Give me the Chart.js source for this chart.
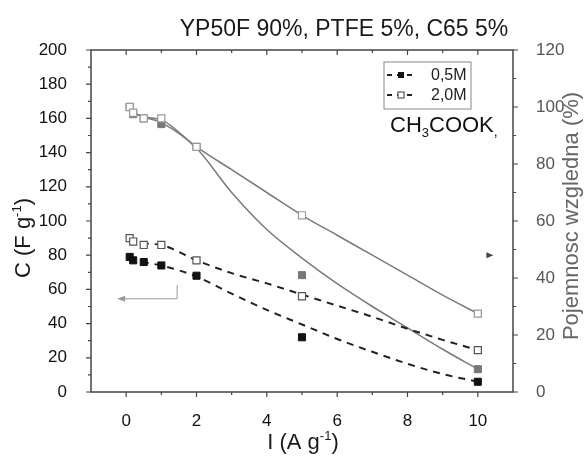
<!DOCTYPE html>
<html>
<head>
<meta charset="utf-8">
<script src="https://cdn.jsdelivr.net/npm/chart.js@4.4.1/dist/chart.umd.min.js"></script>
<style>
  html, body { margin: 0; padding: 0; background: #fff; }
</style>
</head>
<body>
<canvas id="chart" width="584" height="459"></canvas>
<script>
// current density I (A/g)
const current = [0.1, 0.2, 0.5, 1, 2, 5, 10];
// capacitance C (F/g), left axis
const cap05 = [79, 77, 76, 74, 68, 32, 6];
const cap20 = [90, 88, 86, 86, 77, 56, 24.5];
// relative capacitance (%), right axis
const rel05 = [100, 97.5, 96, 94, 86, 41, 8];
const rel20 = [100, 98, 96, 96, 86, 62, 27.5];

// fitted curves as they appear in the figure
const fitX = [0.1, 0.5, 1, 2, 3, 4, 5, 6, 7, 8, 9, 10];
const fitCap05 = [79, 76, 74, 67.5, 57.5, 48, 39.5, 31, 23.5, 16.5, 10.5, 6];
const fitCap20 = [90, 87, 86, 77, 69.5, 63.5, 57, 50.5, 44, 37, 30.5, 24.5];
const fitRelX = [0.2, 0.5, 1, 2, 3, 4, 5, 6, 7, 8, 9, 10];
const fitRel05 = [98, 96.5, 94.5, 85.5, 70, 57, 47, 38, 30, 22.5, 15, 8];
const fitRel20 = [98, 96.5, 95.5, 86, 78, 70, 62, 55, 48, 41, 34, 27.5];

// tick labels
const xTicks = [0, 2, 4, 6, 8, 10];
const capTicks = [0, 20, 40, 60, 80, 100, 120, 140, 160, 180, 200];
const relTicks = [0, 20, 40, 60, 80, 100, 120];
const seriesNames = ["0,5M", "2,0M"];

const FONT = "'Liberation Sans', Arial, sans-serif";

function pts(xs, ys) {
  return xs.map((x, i) => ({ x: x, y: ys[i] }));
}

// text with sub/superscripts, parts = [[text, size, dy]]
function drawParts(ctx, parts, x, y, align) {
  let w = 0;
  parts.forEach(p => { ctx.font = p[1] + "px " + FONT; w += ctx.measureText(p[0]).width; });
  let cx = align === "center" ? x - w / 2 : x;
  ctx.textAlign = "left";
  ctx.textBaseline = "alphabetic";
  parts.forEach(p => {
    ctx.font = p[1] + "px " + FONT;
    ctx.fillText(p[0], cx, y + p[2]);
    cx += ctx.measureText(p[0]).width;
  });
}

function square(ctx, x, y, s, fill, stroke) {
  ctx.fillStyle = fill;
  ctx.fillRect(x - s / 2, y - s / 2, s, s);
  if (stroke) {
    ctx.strokeStyle = stroke;
    ctx.lineWidth = 1.2;
    ctx.strokeRect(x - s / 2, y - s / 2, s, s);
  }
}

const decor = {
  id: "decor",
  afterDraw(chart) {
    const ctx = chart.ctx;
    const a = chart.chartArea;
    const sx = chart.scales.x, sy = chart.scales.y, sr = chart.scales.y2;
    ctx.save();

    // frame
    ctx.strokeStyle = "#444";
    ctx.lineWidth = 1.5;
    ctx.strokeRect(a.left, a.top, a.right - a.left, a.bottom - a.top);

    // ticks
    ctx.lineWidth = 1.2;
    ctx.beginPath();
    for (let v = 0; v <= 10; v++) {
      const px = sx.getPixelForValue(v);
      const len = v % 2 === 0 ? 5 : 3;
      ctx.moveTo(px, a.bottom); ctx.lineTo(px, a.bottom + len);
      ctx.moveTo(px, a.top); ctx.lineTo(px, a.top + len);
    }
    for (let v = 0; v <= 200; v += 10) {
      const py = sy.getPixelForValue(v);
      const len = v % 20 === 0 ? 5 : 3;
      ctx.moveTo(a.left, py); ctx.lineTo(a.left - len, py);
    }
    for (let v = 0; v <= 120; v += 10) {
      const py = sr.getPixelForValue(v);
      const len = v % 20 === 0 ? 5 : 3;
      ctx.moveTo(a.right, py); ctx.lineTo(a.right + len, py);
    }
    ctx.stroke();

    // title
    ctx.fillStyle = "#1a1a1a";
    drawParts(ctx, [["YP50F 90%, PTFE 5%, C65 5%", 23, 0]], 344, 36, "center");

    // x title
    drawParts(ctx, [["I (A g", 22, 0], ["-1", 13, -9], [")", 22, 0]], 303, 449, "center");

    // left title
    ctx.save();
    ctx.translate(30, 238);
    ctx.rotate(-Math.PI / 2);
    drawParts(ctx, [["C (F g", 22, 0], ["-1", 13, -9], [")", 22, 0]], 0, 0, "center");
    ctx.restore();

    // right title
    ctx.save();
    ctx.fillStyle = "#666";
    ctx.translate(578, 216);
    ctx.rotate(-Math.PI / 2);
    drawParts(ctx, [["Pojemnosc wzgledna (%)", 22, 0]], 0, 0, "center");
    ctx.restore();

    // legend
    ctx.strokeStyle = "#888";
    ctx.lineWidth = 1;
    ctx.strokeRect(384, 62, 87, 47);
    [75, 95].forEach((ly, i) => {
      ctx.strokeStyle = "#222";
      ctx.lineWidth = 2;
      ctx.setLineDash([5, 5]);
      ctx.beginPath();
      ctx.moveTo(387, ly); ctx.lineTo(412, ly);
      ctx.stroke();
      ctx.setLineDash([]);
      if (i === 0) square(ctx, 401, ly, 6, "#111");
      else square(ctx, 401, ly, 6, "#fff", "#555");
      ctx.fillStyle = "#222";
      ctx.font = "16px " + FONT;
      ctx.textAlign = "left";
      ctx.textBaseline = "middle";
      ctx.fillText(seriesNames[i], 431, ly + 1);
    });

    // electrolyte label
    ctx.fillStyle = "#111";
    drawParts(ctx, [["CH", 22, 0], ["3", 13, 5], ["COOK", 22, 0], [",", 14, 4]], 390, 132, "left");

    // axis arrows
    ctx.strokeStyle = "#999";
    ctx.fillStyle = "#999";
    ctx.lineWidth = 1;
    const ax0 = sx.getPixelForValue(-0.2), ax1 = sx.getPixelForValue(1.45);
    const ay = sy.getPixelForValue(54.5), ay2 = sy.getPixelForValue(62.5);
    ctx.beginPath();
    ctx.moveTo(ax0, ay); ctx.lineTo(ax1, ay); ctx.lineTo(ax1, ay2);
    ctx.stroke();
    ctx.beginPath();
    ctx.moveTo(ax0 - 2, ay); ctx.lineTo(ax0 + 6, ay - 3); ctx.lineTo(ax0 + 6, ay + 3);
    ctx.closePath();
    ctx.fill();
    const rx = sx.getPixelForValue(10.3), ry = sr.getPixelForValue(48);
    ctx.fillStyle = "#444";
    ctx.beginPath();
    ctx.moveTo(rx + 5, ry); ctx.lineTo(rx - 2, ry - 3); ctx.lineTo(rx - 2, ry + 3);
    ctx.closePath();
    ctx.fill();

    ctx.restore();
  }
};

const lineBase = { showLine: true, pointRadius: 0, fill: false, cubicInterpolationMode: "monotone", order: 3 };
const pointBase = { showLine: false, pointStyle: "rect", pointRadius: 5, order: 1 };

// datasets listed first are painted last (on top)
new Chart(document.getElementById("chart"), {
  type: "scatter",
  data: {
    datasets: [
      Object.assign({}, pointBase, { data: pts(current, cap20), yAxisID: "y", backgroundColor: "#fff", borderColor: "#555", borderWidth: 1.2 }),
      Object.assign({}, pointBase, { data: pts(current, cap05), yAxisID: "y", backgroundColor: "#111", borderColor: "#111", borderWidth: 1 }),
      Object.assign({}, pointBase, { data: pts(current, rel20), yAxisID: "y2", backgroundColor: "#fff", borderColor: "#999", borderWidth: 1.2 }),
      Object.assign({}, pointBase, { data: pts(current, rel05), yAxisID: "y2", backgroundColor: "#777", borderColor: "#777", borderWidth: 1 }),
      Object.assign({}, lineBase, { data: pts(fitX, fitCap05), yAxisID: "y", borderColor: "#222", borderWidth: 2, borderDash: [7, 6] }),
      Object.assign({}, lineBase, { data: pts(fitX, fitCap20), yAxisID: "y", borderColor: "#222", borderWidth: 2, borderDash: [7, 6] }),
      Object.assign({}, lineBase, { data: pts(fitRelX, fitRel05), yAxisID: "y2", borderColor: "#7a7a7a", borderWidth: 1.5 }),
      Object.assign({}, lineBase, { data: pts(fitRelX, fitRel20), yAxisID: "y2", borderColor: "#7a7a7a", borderWidth: 1.5 })
    ]
  },
  options: {
    responsive: false,
    animation: false,
    layout: { padding: { top: 50, left: 0, right: 0, bottom: 0 } },
    plugins: { legend: { display: false }, tooltip: { enabled: false } },
    scales: {
      x: {
        type: "linear", position: "bottom", min: -1, max: 11,
        grid: { display: false }, border: { display: false },
        afterBuildTicks: s => { s.ticks = xTicks.map(v => ({ value: v })); },
        afterFit: s => { s.height = 67; },
        ticks: { font: { family: FONT, size: 17 }, color: "#111", padding: 11, maxRotation: 0 }
      },
      y: {
        type: "linear", position: "left", min: 0, max: 200,
        grid: { display: false }, border: { display: false },
        afterBuildTicks: s => { s.ticks = capTicks.map(v => ({ value: v })); },
        afterFit: s => { s.width = 91; },
        ticks: { font: { family: FONT, size: 17 }, color: "#111", padding: 16 }
      },
      y2: {
        type: "linear", position: "right", min: 0, max: 120,
        grid: { display: false }, border: { display: false },
        afterBuildTicks: s => { s.ticks = relTicks.map(v => ({ value: v })); },
        afterFit: s => { s.width = 71; },
        ticks: { font: { family: FONT, size: 17 }, color: "#555", padding: 15 }
      }
    }
  },
  plugins: [decor]
});
</script>
</body>
</html>
